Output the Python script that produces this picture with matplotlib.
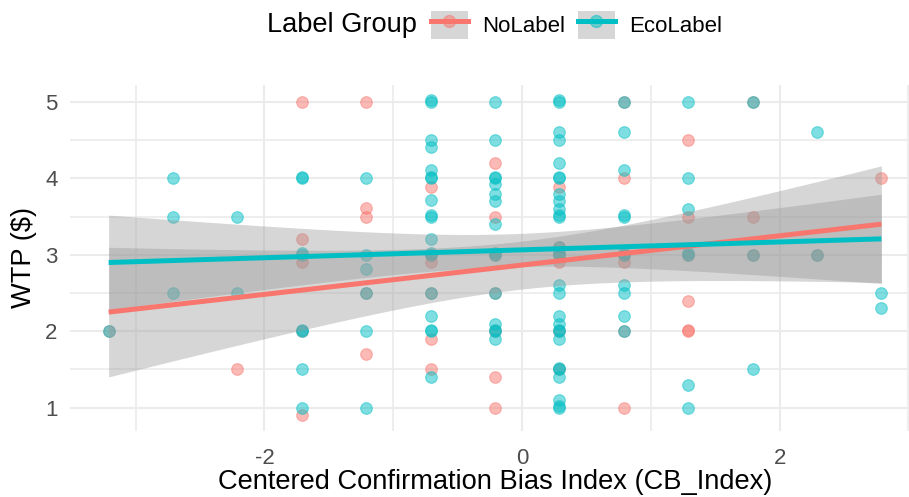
import numpy as np
import matplotlib.pyplot as plt
from matplotlib.lines import Line2D
from matplotlib.patches import Patch
from matplotlib.legend_handler import HandlerTuple
from matplotlib.colors import to_rgba

plt.rcParams['font.family'] = ['Liberation Sans', 'DejaVu Sans']
plt.rcParams['axes.unicode_minus'] = False

# NoLabel group: centered CB index and (jittered) WTP
# (darker / grey dots read as overlapping points)
nolabel_x = [-3.21, -2.21,
             -1.71, -1.71, -1.71, -1.71, -1.71,
             -1.21, -1.21, -1.21, -1.21, -1.21,
             -0.71, -0.71, -0.71, -0.71, -0.71, -0.71,
             -0.21, -0.21, -0.21, -0.21, -0.21, -0.21, -0.21,
             0.29, 0.29, 0.29, 0.29, 0.29, 0.29,
             0.79, 0.79, 0.79, 0.79, 0.79, 0.79,
             1.29, 1.29, 1.29, 1.29, 1.29, 1.29,
             1.79, 1.79, 1.79,
             2.29,
             2.79]
nolabel_y = [2.0, 1.5,
             5.0, 3.2, 2.9, 2.0, 0.9,
             5.0, 3.61, 3.5, 2.5, 1.7,
             3.89, 3.0, 2.9, 2.5, 1.9, 1.5,
             4.2, 3.5, 3.0, 2.5, 2.0, 1.4, 1.0,
             3.89, 3.1, 3.0, 2.9, 2.0, 1.5,
             5.0, 4.0, 3.0, 2.9, 2.0, 1.0,
             4.5, 3.5, 3.0, 2.4, 2.0, 2.02,
             5.0, 3.5, 3.0,
             3.0,
             4.0]

# EcoLabel group
eco_x = [-3.21,
         -2.71, -2.71, -2.71,
         -2.21, -2.21,
         -1.71, -1.71, -1.71, -1.71, -1.71, -1.71, -1.71, -1.71,
         -1.21, -1.21, -1.21, -1.21, -1.21, -1.21,
         -0.71, -0.71, -0.71, -0.71, -0.71, -0.71, -0.71, -0.71, -0.71,
         -0.71, -0.71, -0.71, -0.71, -0.71, -0.71, -0.71, -0.71, -0.71,
         -0.21, -0.21, -0.21, -0.21, -0.21, -0.21, -0.21, -0.21,
         -0.21, -0.21, -0.21, -0.21, -0.21, -0.21, -0.21,
         0.29, 0.29, 0.29, 0.29, 0.29, 0.29, 0.29, 0.29, 0.29, 0.29,
         0.29, 0.29, 0.29, 0.29, 0.29, 0.29, 0.29, 0.29, 0.29,
         0.29, 0.29, 0.29, 0.29, 0.29, 0.29, 0.29, 0.29, 0.29,
         0.79, 0.79, 0.79, 0.79, 0.79, 0.79, 0.79, 0.79, 0.79, 0.79, 0.79,
         1.29, 1.29, 1.29, 1.29, 1.29, 1.29, 1.29,
         1.79, 1.79, 1.79,
         2.29, 2.29,
         2.79, 2.79]
eco_y = [2.0,
         4.0, 3.5, 2.5,
         3.5, 2.5,
         4.0, 4.02, 3.0, 3.02, 2.0, 2.02, 1.5, 1.0,
         4.0, 3.0, 2.81, 2.5, 2.0, 1.0,
         5.0, 5.02, 4.5, 4.41, 4.11, 4.0, 4.02, 3.72, 3.5,
         3.52, 3.2, 3.0, 3.02, 2.5, 2.2, 2.0, 2.02, 1.4,
         5.0, 4.5, 4.0, 4.02, 3.92, 3.8, 3.7, 3.4,
         3.0, 3.02, 2.5, 2.1, 2.0, 2.02, 1.9,
         5.0, 5.02, 4.6, 4.5, 4.2, 4.0, 4.02, 3.8, 3.7, 3.6,
         3.5, 3.52, 3.1, 3.0, 3.02, 2.6, 2.5, 2.2, 2.1,
         2.0, 2.02, 1.9, 1.5, 1.52, 1.4, 1.1, 1.0, 1.02,
         5.0, 4.6, 4.11, 3.5, 3.52, 3.0, 3.02, 2.6, 2.5, 2.2, 2.0,
         5.0, 4.0, 3.6, 3.0, 3.02, 1.3, 1.0,
         5.0, 3.0, 1.5,
         4.6, 3.0,
         2.5, 2.3]

groups = ['NoLabel', 'EcoLabel']
colors = ['#F8766D', '#00BFC4']
x_ticks = [-2, 0, 2]
y_ticks = [1, 2, 3, 4, 5]


def t_quantile(df, z=1.959964):
    # Cornish-Fisher approximation of the 97.5% t quantile
    return (z + (z**3 + z) / (4 * df)
            + (5 * z**5 + 16 * z**3 + 3 * z) / (96 * df**2))


def lm_band(x, y, n_grid=80):
    x = np.asarray(x, dtype=float)
    y = np.asarray(y, dtype=float)
    b1, b0 = np.polyfit(x, y, 1)
    grid = np.linspace(x.min(), x.max(), n_grid)
    fit = b0 + b1 * grid
    df = len(x) - 2
    s = np.sqrt(np.sum((y - (b0 + b1 * x)) ** 2) / df)
    sxx = np.sum((x - x.mean()) ** 2)
    se = s * np.sqrt(1 / len(x) + (grid - x.mean()) ** 2 / sxx)
    t = t_quantile(df)
    return grid, fit, fit - t * se, fit + t * se


W, H = 909, 497
fig = plt.figure(figsize=(W / 100, H / 100), dpi=100)
ax = fig.add_axes([70 / W, 1 - 431 / H, (920 - 70) / W, (431 - 84.6) / H])

data = [(nolabel_x, nolabel_y), (eco_x, eco_y)]

# points first, smooth layers on top (ggplot order)
for (x, y), c in zip(data, colors):
    ax.scatter(x, y, s=70, color=c, alpha=0.5, linewidths=0.8, zorder=2)

for (x, y), c in zip(data, colors):
    grid, fit, lo, hi = lm_band(x, y)
    ax.fill_between(grid, lo, hi, color='#999999', alpha=0.4, lw=0, zorder=3)
    ax.plot(grid, fit, color=c, lw=3.6, zorder=4, solid_capstyle='butt')

all_x = nolabel_x + eco_x
all_y = nolabel_y + eco_y
xr = max(all_x) - min(all_x)
yr = max(all_y) - min(all_y)
ax.set_xlim(min(all_x) - 0.05 * xr, max(all_x) + 0.05 * xr)
ax.set_ylim(min(all_y) - 0.05 * yr, max(all_y) + 0.05 * yr)

ax.set_xticks(x_ticks)
ax.set_xticks([-3, -1, 1, 3], minor=True)
ax.set_yticks(y_ticks)
ax.set_yticks([1.5, 2.5, 3.5, 4.5], minor=True)
ax.grid(which='major', color='#EBEBEB', lw=1.5, zorder=0)
ax.grid(which='minor', color='#EBEBEB', lw=1.2, zorder=0)
ax.set_axisbelow(True)
for sp in ax.spines.values():
    sp.set_visible(False)
ax.tick_params(which='both', length=0, labelsize=16, labelcolor='#4D4D4D')
ax.tick_params(axis='x', pad=12)
ax.tick_params(axis='y', pad=9)

ax.set_xlabel('Centered Confirmation Bias Index (CB_Index)', fontsize=19.6, labelpad=0)
ax.set_ylabel('WTP ($)', fontsize=19.6, labelpad=6)

# legend on top, title to the left of the keys
fig.text(267 / W, 1 - 25 / H, 'Label Group', fontsize=19.6, ha='left', va='center')
handles = []
for c in colors:
    box = Patch(facecolor='#999999', alpha=0.4, edgecolor='none')
    pt = Line2D([], [], ls='none', marker='o', markersize=8.6,
                markerfacecolor=to_rgba(c, 0.5), markeredgecolor=to_rgba(c, 0.5))
    ln = Line2D([], [], color=c, lw=3.6)
    handles.append((box, pt, ln))
fig.legend(handles=handles, labels=groups, handler_map={tuple: HandlerTuple(ndivide=1)},
           loc='center left', bbox_to_anchor=(431 / W, 1 - 25 / H), frameon=False,
           borderpad=0, borderaxespad=0, ncol=2, fontsize=16,
           handlelength=1.66, handleheight=1.62, handletextpad=0.63, columnspacing=0.59)

fig.savefig('out.png', dpi=100)
